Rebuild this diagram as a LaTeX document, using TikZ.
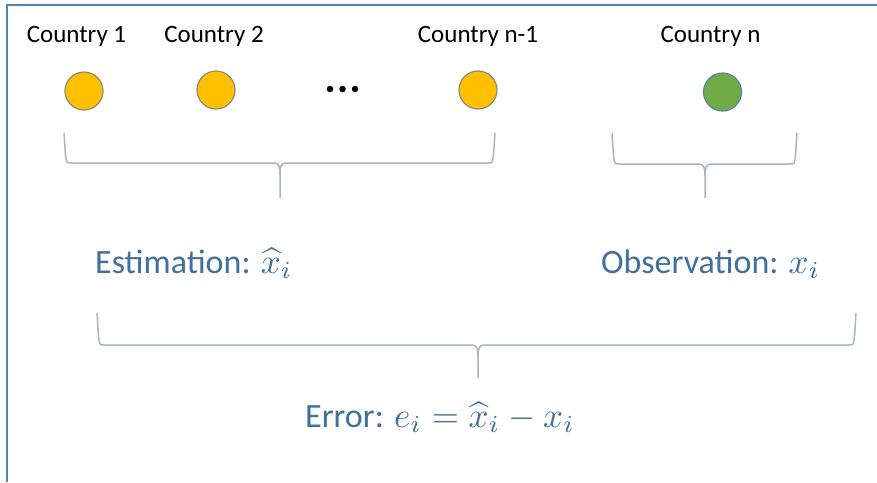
\documentclass[tikz,border=0pt]{standalone}
\usepackage{graphicx}
\usepackage{fontspec}
\setmainfont{Carlito}
\definecolor{frameblue}{HTML}{4F81BD}
\definecolor{txtblue}{HTML}{41709F}
\definecolor{bracegray}{HTML}{A9B4C2}
\definecolor{orangefill}{HTML}{FFC000}
\definecolor{greenfill}{HTML}{70AD47}
\definecolor{circedge}{HTML}{8A8A7A}
\newcommand{\mymath}[1]{\scalebox{3.5}{\fontsize{10}{12}\selectfont$#1$}}
\tikzset{
  country/.style={anchor=base, font=\fontsize{25}{30}\selectfont, text=black, inner sep=0pt},
  dotnode/.style={circle, draw=circedge, line width=1.2pt, minimum size=38pt, inner sep=0pt},
  blabel/.style={anchor=base west, font=\fontsize{34}{40}\selectfont, text=txtblue, inner sep=0pt},
  bracestyle/.style={draw=bracegray, line width=1.5pt},
  framestyle/.style={draw=frameblue, line width=1.6pt}
}
\newcommand{\mybrace}[6]{% xl, xr, top, bar, tip x, tip y
  \draw[bracestyle] (#1,#3) .. controls (#1+1,#3+12) and (#1+1,#4-6) .. (#1+3,#4-1)
    .. controls (#1+4,#4) .. (#1+8,#4) -- (#5-6,#4)
    .. controls (#5-1,#4) and (#5,#4+4) .. (#5,#4+12) -- (#5,#6);
  \draw[bracestyle] (#2,#3) .. controls (#2-1,#3+12) and (#2-1,#4-6) .. (#2-3,#4-1)
    .. controls (#2-4,#4) .. (#2-8,#4) -- (#5+6,#4)
    .. controls (#5+1,#4) and (#5,#4+4) .. (#5,#4+12);
}
\begin{document}
\begin{tikzpicture}[x=1pt,y=-1pt]
\useasboundingbox (0,0) rectangle (877,482);
\fill[white] (0,0) rectangle (877,482);
\coordinate (ftl) at (7,5);
\coordinate (ftr) at (877,5);
\coordinate (fbl) at (7,482);
\draw[framestyle] (ftr) -- (ftl) -- (fbl);

\node[country] (l1) at (76.5,42) {Country 1};
\node[country] (l2) at (214,42) {Country 2};
\node[country] (l3) at (478,42) {Country n-1};
\node[country] (l4) at (710.5,42) {Country n};

\node[dotnode, fill=orangefill] (c1) at (84,91) {};
\node[dotnode, fill=orangefill] (c2) at (216,90) {};
\node[dotnode, fill=orangefill] (c3) at (478,90) {};
\node[dotnode, fill=greenfill, draw=frameblue!60!gray] (c4) at (722.5,92) {};

\node[circle, fill=black, minimum size=6.5pt, inner sep=0pt] (d1) at (330,89) {};
\node[circle, fill=black, minimum size=6.5pt, inner sep=0pt] (d2) at (342.5,89) {};
\node[circle, fill=black, minimum size=6.5pt, inner sep=0pt] (d3) at (355,89) {};

\mybrace{64}{495}{133}{163}{280}{198}
\mybrace{612}{797}{133}{164}{705}{198}
\mybrace{97}{856}{313}{345}{478}{378}

\node[blabel] (est) at (95,273) {Estimation: \mymath{\widehat{x}_i}};
\node[blabel] (obs) at (601,273) {Observation: \mymath{x_i}};
\node[blabel] (err) at (305,427) {Error: \mymath{e_i = \widehat{x}_i - x_i}};
\end{tikzpicture}
\end{document}
